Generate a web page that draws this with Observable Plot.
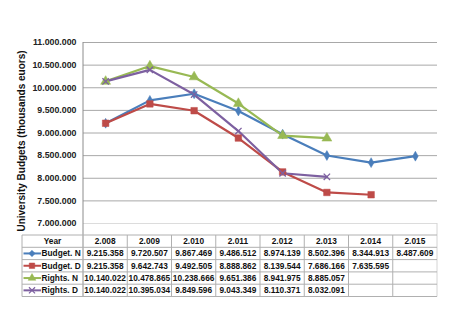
<!DOCTYPE html>
<html>
<head>
<meta charset="utf-8">
<script src="https://cdn.jsdelivr.net/npm/d3@7"></script>
<script src="https://cdn.jsdelivr.net/npm/@observablehq/plot@0.6"></script>
<style>
  html, body { margin: 0; padding: 0; background: #fff; }
  #chart svg { display: block; }
</style>
</head>
<body>
<div id="chart"></div>
<script>
// University budgets 2008–2015 (thousands of euros)
const years = [2008, 2009, 2010, 2011, 2012, 2013, 2014, 2015];
const seriesNames = ["Budget. N", "Budget. D", "Rights. N", "Rights. D"];
const budgetN = [9215358, 9720507, 9867469, 9486512, 8974139, 8502396, 8344913, 8487609];
const budgetD = [9215358, 9642743, 9492505, 8888862, 8139544, 7686166, 7635595, null];
const rightsN = [10140022, 10478865, 10238666, 9651386, 8941975, 8885057, null, null];
const rightsD = [10140022, 10395034, 9849596, 9043349, 8110371, 8032091, null, null];
const yTicks = [7000000, 7500000, 8000000, 8500000, 9000000, 9500000, 10000000, 10500000, 11000000];

const seriesValues = [budgetN, budgetD, rightsN, rightsD];
const colors = ["#4A7EBB", "#BE4B48", "#98B954", "#7D60A0"];
const symbols = ["diamond", "square", "triangle", "times"];
const symbolR = [3.0, 3.7, 3.7, 3.0];

const locale = d3.formatLocale({decimal: ",", thousands: ".", grouping: [3], currency: ["", ""]});
const fmt = locale.format(",d");

// long-format table for the lines and markers
const rows = [];
seriesNames.forEach((name, i) => {
  years.forEach((year, j) => {
    const v = seriesValues[i][j];
    if (v != null) rows.push({series: name, year, value: v});
  });
});

const font = "'Liberation Sans', Arial, sans-serif";
const W = 460, H = 320;
const mLeft = 83, mRight = 23, mTop = 42, mBottom = 97;

const chart = Plot.plot({
  width: W,
  height: H,
  marginLeft: mLeft,
  marginRight: mRight,
  marginTop: mTop,
  marginBottom: mBottom,
  style: {fontFamily: font, background: "#fff"},
  x: {type: "linear", domain: [years[0] - 0.5, years[years.length - 1] + 0.5], axis: null},
  y: {domain: [yTicks[0], yTicks[yTicks.length - 1]]},
  color: {domain: seriesNames, range: colors},
  symbol: {domain: seriesNames, range: symbols},
  marks: [
    Plot.ruleY(yTicks.slice(1), {stroke: "#a8a8a8", strokeWidth: 1}),
    Plot.ruleY(yTicks.slice(0, 1), {stroke: "#dcdcdc", strokeWidth: 1}),
    Plot.axisY({
      ticks: yTicks,
      tickSize: 0,
      tickPadding: 7,
      tickFormat: fmt,
      fontSize: 8.8,
      fontWeight: "bold",
      fill: "#222",
      label: null
    }),
    Plot.text(["University Budgets (thousands euors)"], {
      frameAnchor: "left",
      textAnchor: "middle",
      rotate: -90,
      dx: -62,
      dy: 8,
      fontSize: 10,
      fontWeight: "bold",
      fill: "#111"
    }),
    Plot.line(rows, {x: "year", y: "value", z: "series", stroke: "series", strokeWidth: 2.2}),
    ...seriesNames.map((name, i) =>
      Plot.dot(rows.filter(d => d.series === name), {
        x: "year", y: "value", symbol: "series",
        r: symbolR[i],
        fill: symbols[i] === "times" ? "none" : "series",
        stroke: "series",
        strokeWidth: symbols[i] === "times" ? 1.3 : 0.5
      })
    )
  ]
});

document.getElementById("chart").appendChild(chart);

// Data table under the plot, columns aligned with the x scale
const sx = chart.scale("x");
const sy = chart.scale("y");
const svg = d3.select(chart);
const g = svg.append("g").attr("font-family", font).attr("font-weight", "bold")
  .attr("font-size", 8.3).attr("fill", "#111").attr("text-anchor", "middle");

const frameBottom = sy.apply(yTicks[0]);
const tableTop = 235;
const rowH = 12.3;
const nRows = seriesNames.length + 1;
const tableBottom = tableTop + nRows * rowH;
const legendLeft = 22;
const bounds = years.map(y => sx.apply(y - 0.5)).concat([sx.apply(years[years.length - 1] + 0.5)]);
const right = bounds[bounds.length - 1];

// value axis line continues down to the table
g.append("line").attr("x1", bounds[0]).attr("x2", bounds[0]).attr("y1", mTop).attr("y2", tableBottom)
  .attr("stroke", "#8c8c8c").attr("stroke-width", 1);
// right edge of plot area box
g.append("line").attr("x1", right).attr("x2", right).attr("y1", frameBottom).attr("y2", tableBottom)
  .attr("stroke", "#d4d4d4").attr("stroke-width", 1);

// horizontal rules
for (let r = 0; r <= nRows; r++) {
  const yy = tableTop + r * rowH;
  g.append("line").attr("x1", legendLeft).attr("x2", right).attr("y1", yy).attr("y2", yy)
    .attr("stroke", "#b0b0b0").attr("stroke-width", 1);
}
// vertical rules
g.append("line").attr("x1", legendLeft).attr("x2", legendLeft).attr("y1", tableTop).attr("y2", tableBottom)
  .attr("stroke", "#b0b0b0");
bounds.slice(1, -1).forEach(bx => {
  g.append("line").attr("x1", bx).attr("x2", bx).attr("y1", tableTop).attr("y2", tableBottom)
    .attr("stroke", "#b0b0b0");
});

const rowMid = r => tableTop + r * rowH + rowH / 2;

// header row
g.append("text").attr("x", (legendLeft + bounds[0]) / 2).attr("y", rowMid(0)).attr("dy", "0.35em")
  .attr("text-anchor", "middle").text("Year");
years.forEach(y => {
  g.append("text").attr("x", sx.apply(y)).attr("y", rowMid(0)).attr("dy", "0.35em")
    .attr("text-anchor", "middle").text(fmt(y));
});

// series rows with legend keys
seriesNames.forEach((name, i) => {
  const ym = rowMid(i + 1);
  g.append("line").attr("x1", 23.5).attr("x2", 41).attr("y1", ym).attr("y2", ym)
    .attr("stroke", colors[i]).attr("stroke-width", 2);
  const sym = d3.symbol().type({
    diamond: d3.symbolDiamond2 || d3.symbolDiamond,
    square: d3.symbolSquare,
    triangle: d3.symbolTriangle,
    times: d3.symbolTimes || d3.symbolCross
  }[symbols[i]]).size(symbols[i] === "square" ? 30 : 26);
  g.append("path").attr("d", sym()).attr("transform", `translate(32,${ym})`)
    .attr("fill", symbols[i] === "times" ? "none" : colors[i])
    .attr("stroke", colors[i]).attr("stroke-width", symbols[i] === "times" ? 1.2 : 0.5);
  g.append("text").attr("x", 41.5).attr("y", ym).attr("dy", "0.35em")
    .attr("text-anchor", "start").text(name);
  years.forEach((y, j) => {
    const v = seriesValues[i][j];
    if (v == null) return;
    g.append("text").attr("x", sx.apply(y)).attr("y", ym).attr("dy", "0.35em")
      .attr("text-anchor", "middle").text(fmt(v));
  });
});
</script>
</body>
</html>
